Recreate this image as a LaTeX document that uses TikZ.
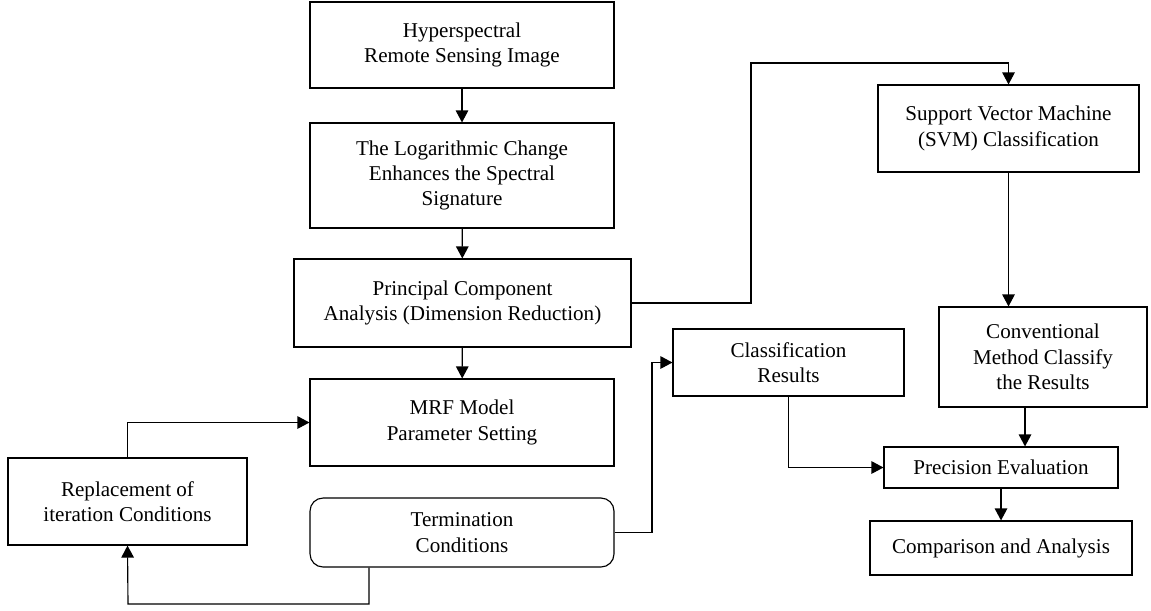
\documentclass[tikz,border=0pt]{standalone}
\usepackage{fontspec}
\setmainfont{Liberation Serif}
\usetikzlibrary{arrows.meta}

\begin{document}
\begin{tikzpicture}[x=0.02cm, y=-0.02cm,
  box/.style={draw, line width=0.65pt, align=center, inner sep=2pt,
    font=\fontsize{12}{14.4}\selectfont},
  flow/.style={draw, line width=0.65pt, -{Triangle[length=0.24cm,width=0.25cm]}}]

\useasboundingbox (0,0) rectangle (1151,610);

\node at (462, 45)[box, minimum width=6.08cm, minimum height=1.72cm] (img) {Hyperspectral\\Remote Sensing Image};
\node at (462, 175.5)[box, minimum width=6.08cm, minimum height=2.10cm] (log) {The Logarithmic Change\\Enhances the Spectral\\Signature};
\node at (462.5, 303)[box, minimum width=6.74cm, minimum height=1.76cm] (pca) {Principal Component\\Analysis (Dimension Reduction)};
\node at (462, 422.5)[box, minimum width=6.08cm, minimum height=1.74cm] (mrf) {MRF Model\\Parameter Setting};
\node at (127.5, 501.5)[box, minimum width=4.78cm, minimum height=1.74cm] (rep) {Replacement of\\iteration Conditions};
\node at (462, 532.5)[box, rounded corners=0.26cm, minimum width=6.08cm, minimum height=1.38cm] (term) {Termination\\Conditions};

\node at (788.5, 362.5)[box, minimum width=4.62cm, minimum height=1.34cm] (cls) {Classification\\Results};
\node at (1008.5, 128.5)[box, minimum width=5.22cm, minimum height=1.74cm] (svm) {Support Vector Machine\\(SVM) Classification};
\node at (1043, 357)[box, minimum width=4.16cm, minimum height=2.00cm] (conv) {Conventional\\Method Classify\\the Results};
\node at (1001, 467.5)[box, minimum width=4.68cm, minimum height=0.82cm] (prec) {Precision Evaluation};
\node at (1001, 548)[box, minimum width=5.24cm, minimum height=1.08cm] (comp) {Comparison and Analysis};

\coordinate (up) at (751, 63);
\coordinate (low) at (128, 604);
\coordinate (bend) at (652, 532.5);

\draw[flow] (img) -- (log);
\draw[flow] (log) -- (pca);
\draw[flow] (pca) -- (mrf);
\draw[flow] (rep.north) |- (mrf.west);
\draw[flow] ([xshift=-1.86cm]term.south) |- (low) -- (rep.south);
\draw[flow] (term.east) -- (bend) |- (cls.west);
\draw[flow] (pca.east) -| (up) -| (svm.north);
\draw[flow] (svm.south) -- (svm.south |- conv.north);
\draw[flow] ([xshift=-0.36cm]conv.south) -- ([xshift=-0.36cm]conv.south |- prec.north);
\draw[flow] (cls.south) |- (prec.west);
\draw[flow] (prec) -- (comp);
\end{tikzpicture}
\end{document}
